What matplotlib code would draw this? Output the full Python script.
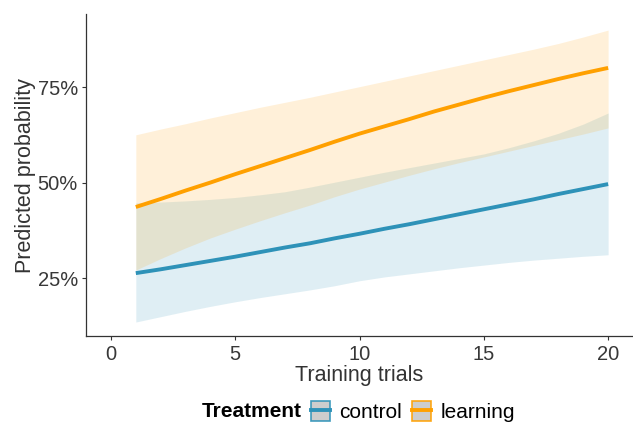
import matplotlib.pyplot as plt
from matplotlib.lines import Line2D
from matplotlib.patches import Patch
from matplotlib.ticker import FuncFormatter

plt.rcParams['font.family'] = ['Liberation Sans', 'DejaVu Sans']

# predicted probability (%) by number of training trials
trials = list(range(1, 21))
control_fit = [26.4, 27.4, 28.5, 29.6, 30.7, 31.9, 33.1, 34.2, 35.5, 36.7,
               38.0, 39.2, 40.5, 41.8, 43.1, 44.4, 45.7, 47.1, 48.4, 49.7]
control_lo = [13.6, 15.0, 16.4, 17.7, 18.9, 20.0, 21.0, 22.0, 23.1, 24.4,
              25.4, 26.2, 27.0, 27.8, 28.5, 29.2, 29.8, 30.3, 30.8, 31.2]
control_hi = [44.8, 45.0, 45.3, 45.7, 46.2, 46.9, 47.7, 48.9, 50.2, 51.5,
              52.8, 54.0, 55.2, 56.4, 57.6, 59.2, 61.0, 63.0, 65.4, 68.3]
learning_fit = [43.7, 45.8, 48.0, 50.1, 52.3, 54.4, 56.5, 58.6, 60.8, 62.9,
                64.8, 66.7, 68.7, 70.5, 72.3, 74.0, 75.6, 77.2, 78.7, 80.1]
learning_lo = [27.2, 30.2, 33.0, 35.6, 37.9, 40.1, 42.2, 44.2, 46.4, 48.4,
               50.2, 52.0, 53.7, 55.3, 56.8, 58.3, 59.8, 61.3, 62.8, 64.4]
learning_hi = [62.6, 64.1, 65.5, 67.0, 68.4, 69.8, 71.1, 72.4, 73.8, 75.2,
               76.6, 78.0, 79.4, 80.8, 82.2, 83.6, 85.0, 86.5, 88.2, 90.0]

groups = ['control', 'learning']
colors = {'control': '#2E92B8', 'learning': '#FFA000'}
series = {
    'control': (control_fit, control_lo, control_hi),
    'learning': (learning_fit, learning_lo, learning_hi),
}

fig = plt.figure(figsize=(6.33, 4.25), dpi=100)
ax = fig.add_axes([0.136, 0.209, 0.864, 0.758])

for g in groups:
    fit, lo, hi = series[g]
    ax.fill_between(trials, [v / 100 for v in lo], [v / 100 for v in hi],
                    color=colors[g], alpha=0.15, linewidth=0)
for g in groups:
    fit, lo, hi = series[g]
    ax.plot(trials, [v / 100 for v in fit], color=colors[g], lw=2.8,
            solid_capstyle='butt')

ax.set_xlim(-1, 21)
ax.set_ylim(0.099, 0.942)
ax.set_xticks([0, 5, 10, 15, 20])
ax.set_yticks([0.25, 0.50, 0.75])
ax.yaxis.set_major_formatter(FuncFormatter(lambda v, p: f'{v * 100:.0f}%'))

for s in ['top', 'right']:
    ax.spines[s].set_visible(False)
for s in ['left', 'bottom']:
    ax.spines[s].set_color('#333333')
    ax.spines[s].set_linewidth(0.9)
ax.tick_params(colors='#333333', labelsize=14.5, length=3, width=0.8, pad=3)
for lab in ax.get_xticklabels() + ax.get_yticklabels():
    lab.set_color('#383838')

ax.set_xlabel('Training trials', fontsize=15.5, color='#333333', labelpad=1)
ax.set_ylabel('Predicted probability', fontsize=15.5, color='#333333', labelpad=1)

# legend along the bottom: bold title on the left, keys to its right
fig.text(0.319, 0.031, 'Treatment', fontsize=15, fontweight='bold',
         ha='left', va='center')
handles = [(Patch(facecolor='#C8C8C8', edgecolor=colors[g], alpha=0.9, lw=1.2),
            Line2D([], [], color=colors[g], lw=2.8)) for g in groups]
fig.legend(handles, groups, loc='center left', bbox_to_anchor=(0.491, 0.031),
           ncol=2, frameon=False, fontsize=15, handlelength=0.9,
           handleheight=1.1, handletextpad=0.45, columnspacing=0.5,
           borderpad=0, borderaxespad=0)

fig.savefig('out.png', dpi=100)
